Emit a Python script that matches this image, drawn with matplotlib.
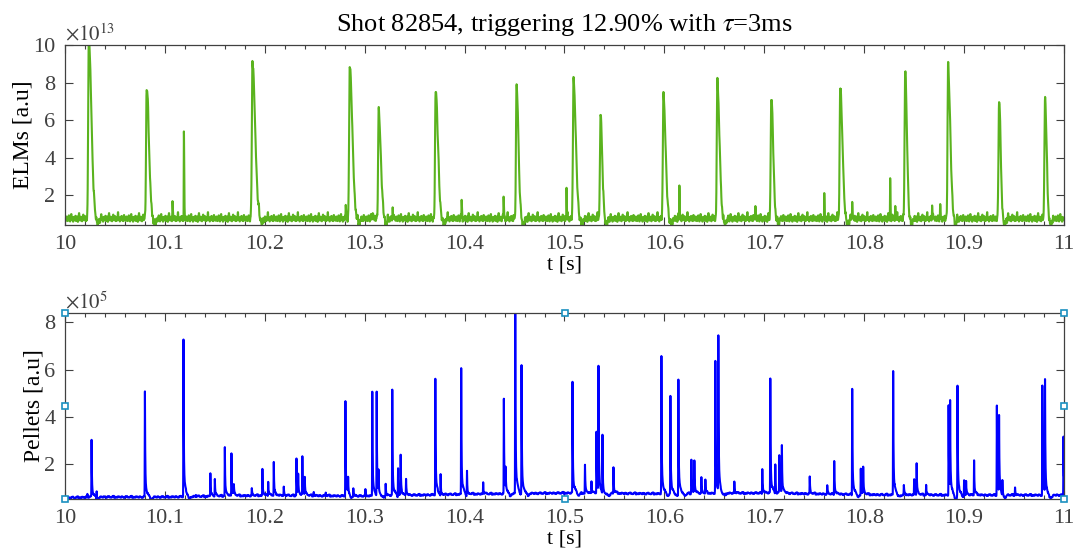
import matplotlib.pyplot as plt
import numpy as np

plt.rcParams['font.family'] = ['Liberation Serif', 'DejaVu Serif']
plt.rcParams['mathtext.fontset'] = 'stix'

# ELM peaks: time [s], amplitude [x1e13], decay [ms]
elm_t = [10.0238, 10.0817, 10.1076, 10.119, 10.1876, 10.281, 10.285, 10.308,
         10.314, 10.328, 10.371, 10.397, 10.439, 10.452, 10.502, 10.509,
         10.536, 10.599, 10.615, 10.653, 10.691, 10.707, 10.760, 10.776,
         10.788, 10.826, 10.831, 10.841, 10.868, 10.876, 10.884, 10.935, 10.981]
elm_a = [10.3, 7.7, 1.6, 5.2, 9.1, 1.6, 8.9, 1.2,
         6.4, 1.3, 7.6, 1.8, 2.0, 7.9, 2.5, 8.1,
         6.3, 7.3, 2.6, 7.9, 1.5, 7.2, 2.2, 7.7,
         1.8, 2.8, 1.4, 8.6, 1.4, 1.3, 8.8, 7.1, 7.2]
elm_w = [3.6, 3.2, 0.4, 0.5, 3.8, 0.5, 3.6, 0.5,
         3.0, 0.5, 3.2, 0.4, 0.5, 2.6, 0.4, 3.2,
         2.4, 3.0, 0.4, 3.0, 0.4, 2.6, 0.4, 3.0,
         0.4, 0.4, 0.6, 2.4, 0.6, 0.6, 3.0, 2.2, 2.2]
elm_base = 0.75
elm_ripple = [0.02, -0.10, 0.12, 0.01, -0.12, 0.08, 0.18, -0.05, -0.14, 0.06,
              0.25, -0.04, 0.05, -0.15, 0.10, 0.00, -0.08, 0.16, -0.11, 0.03,
              0.12, -0.16, 0.07, 0.30, -0.05, -0.09, 0.11, 0.02, -0.13, 0.09,
              0.22, -0.07, 0.00, 0.14, -0.12, 0.05, -0.10, 0.08, 0.35, -0.06,
              0.04, -0.14, 0.10, -0.02, 0.15, -0.09, 0.06, -0.12, 0.20, 0.01]

# pellet peaks: time [s], amplitude [x1e5]
pel_t = [10.0224, 10.0266, 10.0317, 10.080, 10.1186, 10.131, 10.1455, 10.150,
         10.160, 10.1666, 10.169, 10.187, 10.1976, 10.2034, 10.209, 10.219,
         10.2317, 10.2334, 10.2376, 10.240, 10.249, 10.261, 10.2807, 10.2834,
         10.2886, 10.3007, 10.3076, 10.312, 10.3138, 10.321, 10.3276, 10.3334,
         10.336, 10.3414, 10.3707, 10.376, 10.3966, 10.4024, 10.4186, 10.4393,
         10.441, 10.4507, 10.457, 10.508, 10.5205, 10.527, 10.532, 10.534,
         10.538, 10.549, 10.597, 10.606, 10.614, 10.627, 10.630, 10.637,
         10.641, 10.651, 10.654, 10.670, 10.698, 10.706, 10.711, 10.715,
         10.7176, 10.7455, 10.763, 10.770, 10.788, 10.7966, 10.799, 10.829,
         10.8397, 10.850, 10.8525, 10.862, 10.8845, 10.886, 10.8934, 10.900,
         10.902, 10.910, 10.9328, 10.935, 10.9383, 10.951, 10.9783, 10.981, 10.9995]
pel_a = [0.75, 3.05, 0.95, 5.05, 7.3, 0.7, 1.6, 1.3,
         2.7, 2.4, 1.0, 0.9, 1.7, 1.2, 2.0, 0.95,
         2.2, 1.4, 2.25, 1.3, 0.75, 0.75, 4.65, 1.3,
         0.95, 0.85, 5.05, 5.0, 1.5, 1.1, 5.1, 1.85,
         2.25, 1.25, 5.55, 1.55, 5.95, 1.65, 1.1, 4.6,
         1.5, 9.0, 6.1, 5.33, 1.83, 1.13, 3.23, 5.82,
         3.15, 1.72, 6.42, 4.71, 5.5, 2.03, 1.95, 1.27,
         1.16, 6.2, 7.12, 1.1, 1.65, 5.47, 1.87, 2.15,
         2.6, 1.3, 0.96, 2.04, 5.12, 1.72, 1.72, 5.85,
         1.0, 1.27, 1.9, 1.05, 4.39, 4.35, 5.3, 1.31,
         1.2, 2.1, 4.4, 3.79, 1.27, 0.92, 5.24, 5.37, 3.1]
pel_base_t = [10.0, 10.04, 10.1, 10.2, 10.3, 10.4, 10.5, 10.6, 10.7, 10.8, 10.9, 11.0]
pel_base_v = [0.55, 0.58, 0.58, 0.65, 0.62, 0.70, 0.75, 0.72, 0.75, 0.68, 0.66, 0.66]
pel_ripple = [0.01, -0.02, 0.03, 0.00, -0.03, 0.02, 0.04, -0.01, -0.02, 0.02,
              0.05, -0.03, 0.01, -0.02, 0.03]

t = np.arange(10.0, 11.0, 0.0001)

# baseline texture: each ripple value held ~0.6 ms, lightly smoothed
rip = np.resize(np.repeat(elm_ripple, 6), t.size)
rip = np.convolve(rip, np.ones(3) / 3, mode='same')
elm = elm_base + rip
for t0, a, w in zip(elm_t, elm_a, elm_w):
    h = a - elm_base
    tau = w / 1000
    dt = t - t0
    rise = 0.0008 if w > 1 else 0.0002
    shape = np.where(dt < 0, np.exp(-(dt / rise) ** 2), np.exp(-(dt / tau) ** 2))
    elm = elm + h * shape
    if w > 1:
        elm = elm - 0.3 * np.exp(-((dt - 2.5 * tau) / 0.0018) ** 2)

pel = np.interp(t, pel_base_t, pel_base_v)
pel = pel + np.resize(np.repeat(pel_ripple, 12), t.size)
for t0, a in zip(pel_t, pel_a):
    h = a - 0.6
    dt = t - t0
    shape = np.where(dt < 0, np.exp(-(dt / 0.0002) ** 2),
                     0.85 * np.exp(-dt / 0.0003) + 0.15 * np.exp(-dt / 0.002))
    pel = pel + h * shape
    if a > 3:
        pel = pel - 0.12 * np.exp(-((dt - 0.006) / 0.002) ** 2)

fig = plt.figure(figsize=(10.77, 5.54), dpi=100)
ax1 = fig.add_axes([65 / 1077, 1 - 225 / 554, 999 / 1077, 180 / 554])
ax2 = fig.add_axes([65 / 1077, 1 - 499 / 554, 999 / 1077, 186 / 554])

ax1.plot(t, elm, color='#5ab31e', lw=1.5)
ax1.set_ylim(0.42, 10)
ax1.set_yticks([2, 4, 6, 8, 10])
ax1.set_ylabel('ELMs [a.u]', fontsize=17, labelpad=0)
ax1.set_title(r'Shot 82854, triggering 12.90% with $\tau$=3ms', fontsize=19, pad=10)
ax1.text(0, 1.0, r'$\times10^{13}$', transform=ax1.transAxes, fontsize=15,
         color='#404040', va='bottom', ha='left')

ax2.plot(t, pel, color='#0000ff', lw=1.5)
ax2.set_ylim(0.5, 8.4)
ax2.set_yticks([2, 4, 6, 8])
ax2.set_ylabel('Pellets [a.u]', fontsize=17, labelpad=0)
ax2.text(0, 1.0, r'$\times10^{5}$', transform=ax2.transAxes, fontsize=15,
         color='#404040', va='bottom', ha='left')

for ax in (ax1, ax2):
    ax.set_xlim(10, 11)
    ax.set_xticks(np.arange(10, 11.01, 0.1))
    ax.set_xticklabels(['10', '10.1', '10.2', '10.3', '10.4', '10.5', '10.6',
                        '10.7', '10.8', '10.9', '11'])
    ax.set_xticks(np.arange(10, 11.001, 0.02), minor=True)
    ax.set_xlabel('t [s]', fontsize=16, labelpad=1)
    ax.tick_params(direction='in', top=True, right=True, labelsize=16,
                   colors='#404040', length=6, width=0.8, pad=7)
    ax.tick_params(which='minor', direction='in', top=True, length=3, width=0.8,
                   colors='#404040')
    for s in ax.spines.values():
        s.set_color('#404040')
        s.set_linewidth(0.9)

# selection handles around the lower axes
hx = [0, 0.5, 1, 0, 1, 0, 0.5, 1]
hy = [1, 1, 1, 0.5, 0.5, 0, 0, 0]
ax2.plot(hx, hy, 's', ms=5, mfc='white', mec='#1a90c0', mew=1.2,
         transform=ax2.transAxes, clip_on=False, zorder=5)

fig.savefig('out.png', dpi=100)
